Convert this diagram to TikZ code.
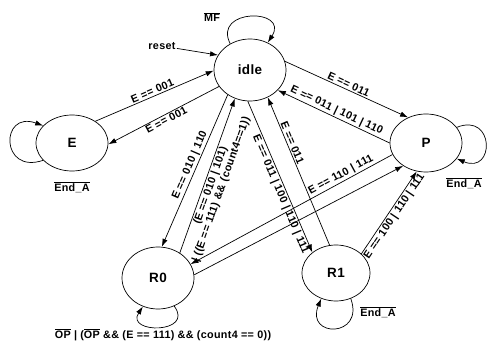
\documentclass[tikz,border=0pt]{standalone}
\usepackage{fontspec}
\usetikzlibrary{arrows.meta, shapes.geometric}

\newfontfamily\lblfont{Liberation Sans}[LetterSpace=3]
\newcommand{\notsig}[1]{$\overline{\mbox{#1}}$}

\tikzset{
  fsm/.style={draw, ellipse, line width=0.6pt, minimum width=21.6mm, minimum height=18.6mm, inner sep=0pt, font=\lblfont\bfseries\fontsize{11.5}{12}\selectfont},
  lbl/.style={inner sep=1pt, font=\lblfont\bfseries\fontsize{9.2}{9.6}\selectfont},
  tr/.style={-{Latex[length=2.4mm,width=1.6mm]}, line width=0.6pt},
}

\begin{document}
\begin{tikzpicture}[x=0.3mm, y=-0.3mm]
\useasboundingbox (0,0) rectangle (489,345);

\node[fsm] (idle) at (250,70) {idle};
\node[fsm, minimum height=16.8mm] (E) at (72,143) {E};
\node[fsm, minimum height=17.4mm] (P) at (426,143) {P};
\node[fsm] (R0) at (158,278) {R0};
\node[fsm, minimum width=20.4mm, minimum height=16.8mm] (R1) at (336,273) {R1};


\node[lbl] (reset) at (162,46) {reset};
\draw[tr] (reset) -- (idle.155);

\node[lbl] (mf) at (212,17) {\notsig{MF}};
\draw[tr] (idle.127) .. controls (212,8) and (290,8) .. (idle.57);


\draw[tr] (E.211) .. controls (0,175) and (0,110) .. (E.149);
\node[lbl] (endE) at (72,187) {\notsig{End\_A}};

\draw[tr] (E.43) -- node[lbl, above, sloped] {E == 001} (idle.181);
\draw[tr] (idle.208) -- node[lbl, below, sloped] {E == 001} (E.358);


\draw[tr] (P.27) .. controls (495,112) and (495,175) .. (P.333);
\node[lbl] (endP) at (464,183) {\notsig{End\_A}};

\draw[tr] (idle.14) -- node[lbl, above, sloped] {E == 011} (P.125);
\draw[tr] (P.180) -- node[lbl, above, sloped] {E == 011 | 101 | 110} (idle.324);


\draw[tr] (R0.300) .. controls (195,334) and (125,334) .. (R0.242);
\node[lbl] (opcnt) at (163,335) {\notsig{OP} | (\notsig{OP} \&\& (E == 111) \&\& (count4 == 0))};

\draw[tr] (idle.228) -- node[lbl, above, sloped, pos=0.48] {E == 010 | 110} (R0.83);
\draw[tr] (R0.49) -- node[lbl, below, sloped, align=center, pos=0.45] {(E == 010 | 101)\\| ((E == 111) \&\& (count4==1))} (idle.242);


\draw[tr] (R1.300) .. controls (365,338) and (305,338) .. (R1.240);
\node[lbl] (endR1) at (378,312) {\notsig{End\_A}};

\draw[tr] (idle.266) -- node[lbl, below, sloped, pos=0.6] {E == 011 | 100 | 110 | 111} (R1.139);
\draw[tr] (R1.103) -- node[lbl, above, sloped, pos=0.68] {E == 011} (idle.303);


\draw[tr] (P.199) -- node[lbl, above, sloped, pos=0.24] {E == 110 | 111} (R0.23);
\draw[tr] (R0.5) -- (P.225);
\draw[tr] (R1.37) -- node[lbl, below, sloped] {E == 100 | 110 | 111} (P.252);
\end{tikzpicture}
\end{document}
